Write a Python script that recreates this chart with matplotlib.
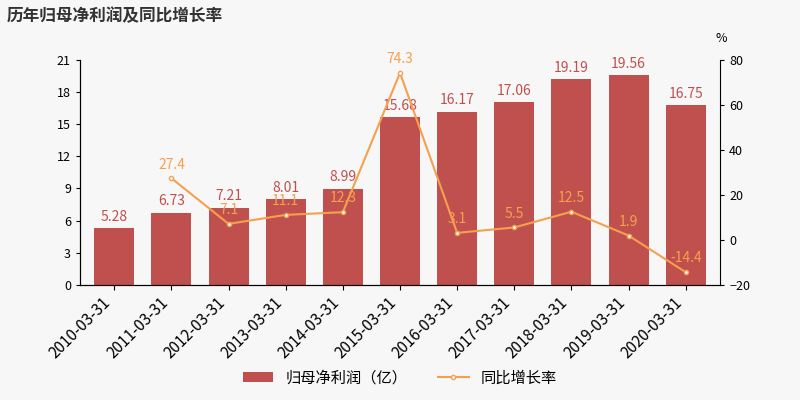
import matplotlib.pyplot as plt

plt.rcParams['font.family'] = ['Noto Sans CJK SC', 'DejaVu Sans']

dates = ['2010-03-31', '2011-03-31', '2012-03-31', '2013-03-31', '2014-03-31', '2015-03-31',
         '2016-03-31', '2017-03-31', '2018-03-31', '2019-03-31', '2020-03-31']
profit = [5.28, 6.73, 7.21, 8.01, 8.99, 15.68, 16.17, 17.06, 19.19, 19.56, 16.75]
growth = [None, 27.4, 7.1, 11.1, 12.3, 74.3, 3.1, 5.5, 12.5, 1.9, -14.4]

bg = '#f7f7f7'
bar_c = '#c0504d'
line_c = '#f4a04f'

fig = plt.figure(figsize=(8, 4), dpi=100, facecolor=bg)
ax = fig.add_axes([0.1, 0.288, 0.8, 0.562], facecolor=bg)
x = list(range(len(dates)))
ax.bar(x, profit, width=0.7, color=bar_c, label='归母净利润（亿）')
for i, v in enumerate(profit):
    ax.text(i, v + 0.4, f'{v:g}', ha='center', va='bottom', color=bar_c, fontsize=10)
ax.set_ylim(0, 21)
ax.set_yticks(range(0, 22, 3))
ax.set_xlim(-0.6, len(dates) - 0.4)
ax.set_xticks(x)
ax.set_xticklabels(dates, rotation=45, ha='right', fontsize=11)
ax.tick_params(axis='y', labelsize=9, length=3)
for s in ['top', 'right']:
    ax.spines[s].set_visible(False)

ax2 = ax.twinx()
gx = [i for i, g in enumerate(growth) if g is not None]
gy = [g for g in growth if g is not None]
ax2.plot(gx, gy, color=line_c, lw=1.5, marker='o', ms=3, mfc='white', label='同比增长率')
for i, v in zip(gx, gy):
    ax2.text(i, v + 3, f'{v:g}', ha='center', va='bottom', color=line_c, fontsize=10)
ax2.set_ylim(-20, 80)
ax2.set_yticks(range(-20, 81, 20))
ax2.tick_params(axis='y', labelsize=9, length=3)
ax2.spines['top'].set_visible(False)
fig.text(0.895, 0.895, '%', fontsize=9)

fig.text(0.008, 0.96, '历年归母净利润及同比增长率', fontsize=12, fontweight='bold', color='#333333', va='center')

h1, l1 = ax.get_legend_handles_labels()
h2, l2 = ax2.get_legend_handles_labels()
fig.legend(h1 + h2, l1 + l2, loc='lower center', bbox_to_anchor=(0.5, 0.0), ncol=2,
           frameon=False, fontsize=11)

fig.savefig('out.png', facecolor=bg)
